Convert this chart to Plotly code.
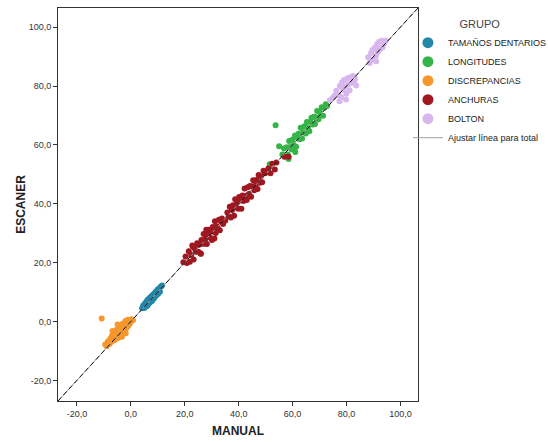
import plotly.graph_objects as go

# ---- data ----
tam_x = [4.2, 4.6, 5.0, 5.3, 5.5, 5.8, 6.0, 6.2, 6.5, 6.7, 7.0, 7.2, 7.4, 7.7, 8.0, 8.2, 8.5, 8.8, 9.0, 9.3, 9.6, 9.9, 10.2, 10.5, 10.8, 11.2, 11.6, 6.3, 7.8, 9.1]
tam_y = [4.5, 5.4, 4.6, 6.2, 5.0, 6.7, 5.3, 7.3, 6.0, 7.7, 6.4, 8.2, 6.8, 8.6, 7.2, 9.1, 7.8, 9.6, 8.4, 10.1, 9.0, 10.8, 9.5, 11.3, 10.1, 11.9, 12.2, 5.6, 7.0, 9.8]

lon_x = [51.5, 53.7, 55.0,
         56.2, 56.8, 57.3, 57.8, 58.2, 58.7, 59.1, 59.6, 60.0, 60.4, 60.9, 61.3, 61.8, 62.2, 62.6, 63.0, 63.5, 64.0, 64.4, 64.9,
         65.3, 65.7, 66.2, 66.6, 67.0, 67.5, 67.9, 68.3, 68.7, 69.1, 69.6, 70.0, 70.4, 70.8, 71.3, 71.8, 72.3, 72.8,
         58.5, 61.0]
lon_y = [53.4, 66.7, 59.5,
         56.7, 58.8, 56.5, 59.2, 56.7, 61.3, 59.3, 58.5, 61.8, 60.0, 63.2, 59.4, 62.7, 63.8, 61.9, 65.8, 62.2, 64.3, 66.3, 63.9,
         67.8, 65.7, 64.6, 67.8, 69.2, 66.9, 69.6, 67.1, 69.4, 71.5, 68.7, 71.3, 70.1, 72.8, 69.9, 72.6, 73.8, 73.2,
         55.2, 57.6]

dis_x = [-10.8, -9.5, -9.0, -8.6, -8.2, -7.9, -7.5, -7.2, -7.0, -6.6, -6.3, -6.0, -5.8, -5.5, -5.2, -5.0, -4.7, -4.4, -4.2, -4.0, -3.7, -3.5, -3.2, -3.0, -2.8, -2.5, -2.2, -2.0, -1.7, -1.4, -1.1, -0.8, -0.5, -0.2, 0.3, 0.8, -6.8, -4.9, -3.3, -1.9]
dis_y = [1.0, -7.8, -8.4, -7.0, -6.5, -7.6, -5.8, -6.9, -4.8, -5.9, -4.2, -6.4, -3.6, -5.0, -2.8, -4.3, -5.6, -3.1, -2.0, -4.5, -2.6, -1.2, -3.7, -0.8, -2.4, -1.6, -3.0, 0.2, -0.9, -2.1, 0.6, -1.3, 0.3, -0.4, 0.8, 0.4, -3.2, -1.0, -5.2, -4.0]

anc_x = [19.5, 20.3, 20.8, 21.5, 21.9, 22.4, 22.8, 23.3, 23.7, 24.1, 24.6, 25.0, 25.3, 25.8, 26.2, 26.5, 27.0, 27.4, 27.8, 28.2,
         28.6, 29.0, 29.3, 29.7, 30.1, 30.4, 30.8, 31.2, 31.5, 31.9, 32.3, 32.7, 33.0, 33.4, 33.8, 34.2, 28.0, 26.0, 23.0, 31.0,
         35.8, 36.3, 36.7, 37.1, 37.5, 37.9, 38.3, 38.7, 39.0, 39.4, 39.8, 40.2, 40.6, 41.0, 41.4, 41.8, 42.2, 42.6, 43.0, 43.4,
         43.8, 44.2, 44.6, 45.0, 45.4, 45.8, 46.2, 46.6, 47.0, 47.4, 47.8, 48.2, 48.7, 49.2, 49.8, 35.0,
         51.0, 51.8, 52.5, 53.4, 54.0, 57.0, 58.5]
anc_y = [20.1, 22.1, 19.9, 23.9, 20.3, 22.6, 25.8, 21.1, 24.8, 23.7, 26.6, 23.7, 26.1, 23.2, 27.7, 26.4, 29.7, 26.4, 28.2, 26.3,
         29.9, 31.2, 28.6, 30.6, 27.7, 32.1, 30.5, 34.1, 30.1, 32.4, 31.5, 34.6, 31.0, 34.1, 35.0, 33.1, 31.2, 23.0, 25.5, 28.2,
         37.0, 35.7, 39.0, 35.3, 37.8, 39.5, 35.9, 41.5, 38.8, 40.4, 38.3, 42.3, 41.1, 38.3, 42.8, 40.9, 45.2, 42.7, 41.3, 45.6,
         43.3, 46.0, 42.4, 45.9, 48.0, 44.6, 46.2, 48.1, 45.0, 49.8, 47.1, 49.3, 47.3, 51.2, 50.4, 34.2,
         52.0, 50.4, 53.6, 51.6, 54.0, 56.0, 56.0]

bol_x = [73.8, 74.8, 75.6, 76.2, 77.0, 77.5, 78.0, 78.3, 78.7, 79.1, 79.5, 79.9, 80.3, 80.7, 81.1, 81.5, 81.9, 82.3, 82.7, 83.2, 83.6, 79.8, 77.4,
         88.0, 88.6, 89.1, 89.6, 90.0, 90.5, 90.9, 91.3, 91.7, 92.1, 92.5, 93.0, 93.4, 93.9, 94.5, 91.0]
bol_y = [75.2, 75.9, 76.8, 78.4, 77.0, 80.0, 76.2, 81.2, 78.7, 82.0, 79.8, 77.4, 82.6, 80.6, 78.6, 83.0, 81.0, 83.4, 81.7, 82.4, 80.2, 75.4, 74.8,
         89.8, 87.8, 91.2, 92.2, 89.0, 93.0, 90.4, 94.2, 91.6, 95.0, 92.6, 95.4, 93.2, 94.4, 95.4, 88.4]

axis_range = [-27.0, 106.5]
tick_vals = [-20, 0, 20, 40, 60, 80, 100]
tick_text = ["-20,0", "0,0", "20,0", "40,0", "60,0", "80,0", "100,0"]

groups = [
    ("TAMAÑOS DENTARIOS", tam_x, tam_y, "#2287A8"),
    ("LONGITUDES", lon_x, lon_y, "#35B447"),
    ("DISCREPANCIAS", dis_x, dis_y, "#F7962A"),
    ("ANCHURAS", anc_x, anc_y, "#A11720"),
    ("BOLTON", bol_x, bol_y, "#D8B6EE"),
]

fig = go.Figure()
for name, xs, ys, col in groups:
    fig.add_trace(go.Scatter(x=xs, y=ys, mode="markers", name=name, legendgroup=name,
                             showlegend=False,
                             marker=dict(color=col, size=6, line=dict(width=0))))
# legend entries (larger symbols, as in the reference legend)
for name, xs, ys, col in groups:
    fig.add_trace(go.Scatter(x=[None], y=[None], mode="markers", name=name, legendgroup=name,
                             marker=dict(color=col, size=11, line=dict(width=0))))

# fit line (total) + dashed reference y = x
fig.add_trace(go.Scatter(x=axis_range, y=axis_range, mode="lines",
                         name="Ajustar línea para total",
                         line=dict(color="#a0a0a0", width=1)))
fig.add_trace(go.Scatter(x=axis_range, y=axis_range, mode="lines", showlegend=False,
                         line=dict(color="#111111", width=1, dash="5px,3px")))

axis_common = dict(range=axis_range, tickvals=tick_vals, ticktext=tick_text,
                   showgrid=False, zeroline=False, showline=True, mirror=True,
                   linecolor="#333333", linewidth=1, ticks="outside", ticklen=4,
                   tickcolor="#333333", tickfont=dict(family="Arial", size=9, color="#333333"))

fig.update_layout(
    width=548, height=442,
    margin=dict(l=58, r=130, t=8, b=41, autoexpand=False),
    plot_bgcolor="white", paper_bgcolor="white",
    xaxis=dict(**axis_common, title=dict(text="<b>MANUAL</b>", standoff=8,
                                         font=dict(family="Arial", size=12, color="#222222"))),
    yaxis=dict(**axis_common, title=dict(text="<b>ESCANER</b>", standoff=0,
                                         font=dict(family="Arial", size=12, color="#222222"))),
    legend=dict(x=0.972, y=0.985, xanchor="left", yanchor="top",
                font=dict(family="Arial", size=9, color="#222222"),
                title=dict(text="GRUPO", side="top center",
                           font=dict(family="Arial", size=11, color="#444444")),
                itemsizing="trace", tracegroupgap=0, itemwidth=30,
                bgcolor="rgba(0,0,0,0)"),
    showlegend=True,
)

fig.write_html("out.html")
